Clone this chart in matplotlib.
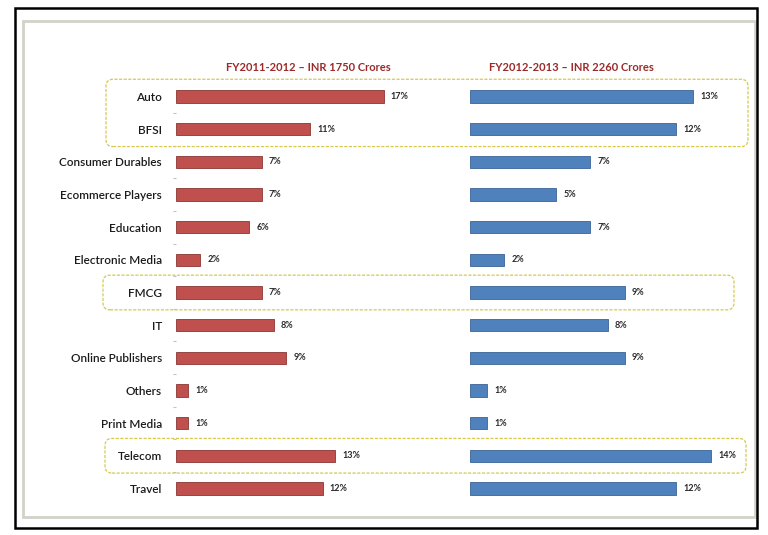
import numpy as np
import matplotlib.pyplot as plt
from matplotlib.patches import FancyBboxPatch, Rectangle

plt.rcParams['font.family'] = ['Lato', 'DejaVu Sans']

categories = ['Auto', 'BFSI', 'Consumer Durables', 'Ecommerce Players', 'Education',
              'Electronic Media', 'FMCG', 'IT', 'Online Publishers', 'Others',
              'Print Media', 'Telecom', 'Travel']
share_fy12 = [17, 11, 7, 7, 6, 2, 7, 8, 9, 1, 1, 13, 12]
share_fy13 = [13, 12, 7, 5, 7, 2, 9, 8, 9, 1, 1, 14, 12]
title_fy12 = 'FY2011-2012 \u2013 INR 1750 Crores'
title_fy13 = 'FY2012-2013 \u2013 INR 2260 Crores'
highlight_groups = [('Auto', 'BFSI'), ('FMCG', 'FMCG'), ('Telecom', 'Telecom')]

W, H = 768, 535
fig = plt.figure(figsize=(W / 100, H / 100), dpi=100)
fig.patch.set_facecolor('white')

def px(x0, y0, w, h):
    # pixel box (top-left origin) -> figure fraction rect
    return [x0 / W, 1 - (y0 + h) / H, w / W, h / H]

y = np.arange(len(categories))
ax1 = fig.add_axes(px(176, 77, 264, 431))
ax2 = fig.add_axes(px(470, 77, 275, 431))

for ax, vals, color, edge, xmax in [(ax1, share_fy12, '#C0504D', '#8a3532', 21.6),
                                    (ax2, share_fy13, '#4F81BD', '#3a6395', 16.0)]:
    ax.barh(y, vals, height=0.38, color=color, edgecolor=edge, linewidth=0.6)
    for yi, v in zip(y, vals):
        ax.text(v + xmax * 0.027, yi, f'{v}%', va='center', ha='left',
                fontsize=6.5, fontweight='bold', color='#2a2a2a')
    ax.set_xlim(0, xmax)
    ax.set_ylim(len(categories) - 0.4, -0.6)
    ax.set_xticks([])
    for s in ax.spines.values():
        s.set_visible(False)
    ax.set_facecolor('none')

ax1.set_yticks(y)
ax1.set_yticklabels(categories, fontsize=8.5, color='#1a1a1a', fontweight='semibold')
ax1.tick_params(axis='y', length=0, pad=10)
ax1.set_yticks(y[:-1] + 0.5, minor=True)
ax1.tick_params(axis='y', which='minor', length=2, color='#b8c4d4', width=0.8)
ax2.set_yticks([])

ax1.set_title(title_fy12, fontsize=8, fontweight='bold', color='#9b2a2a', pad=4)
ax2.set_title(title_fy13, fontsize=8, fontweight='bold', color='#9b2a2a', pad=4, x=0.37)

# dashed highlight boxes, pixel coordinates
fig.canvas.draw()
box_x = [(104, 750), (101, 736), (103, 748)]
for (first, last), (x0, x1) in zip(highlight_groups, box_x):
    i0, i1 = categories.index(first), categories.index(last)
    ytop = ax1.transData.transform((0, i0 - 0.5))[1]
    ybot = ax1.transData.transform((0, i1 + 0.5))[1]
    fig.patches.append(FancyBboxPatch((x0 + 5, ybot + 2), (x1 - x0) - 10, (ytop - ybot) - 4,
                                      boxstyle='round,pad=3,rounding_size=7',
                                      transform=None, fill=False, edgecolor='#d6c94e',
                                      linestyle=(0, (2.5, 1.2)), linewidth=0.9))

# frames
fig.patches.append(Rectangle((23, H - 517), 732, 496, transform=None, fill=False,
                             edgecolor='#d2d2ca', linewidth=2))
fig.patches.append(Rectangle((15, H - 528), 742, 520, transform=None, fill=False,
                             edgecolor='black', linewidth=1.8))

fig.savefig('out.png', dpi=100, facecolor='white')
